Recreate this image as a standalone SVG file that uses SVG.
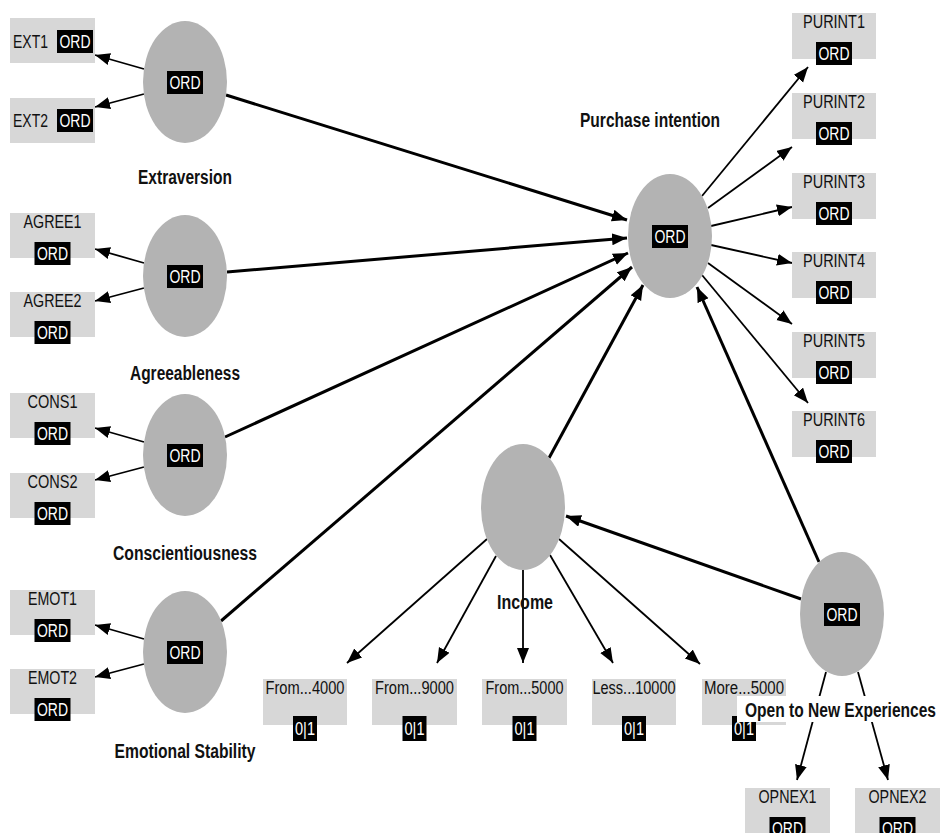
<svg xmlns="http://www.w3.org/2000/svg" width="941" height="833" viewBox="0 0 941 833">
<defs>
<marker id="ah" markerUnits="userSpaceOnUse" markerWidth="16" markerHeight="14" refX="15" refY="6" orient="auto"><path d="M0,0 L15,6 L0,12 z" fill="#000"/></marker>
<style>
text{font-family:"Liberation Sans",Arial,sans-serif;}
.lv{fill:#b3b3b3;}
.box{fill:#d7d7d7;}
.tag{fill:#000;}
.tagt{fill:#fff;font-size:18px;text-anchor:middle;}
.it{fill:#111;font-size:18px;}
.itc{fill:#111;font-size:18px;text-anchor:middle;}
.lab{fill:#111;font-size:20px;font-weight:bold;text-anchor:middle;}
.s{stroke:#000;stroke-width:3;fill:none;marker-end:url(#ah);}
.m{stroke:#000;stroke-width:1.8;fill:none;marker-end:url(#ah);}
</style>
</defs>
<rect width="941" height="833" fill="#fff"/>
<g id="connectors">
<line class="s" x1="226" y1="95" x2="627" y2="220"/>
<line class="s" x1="227" y1="272" x2="627" y2="238"/>
<line class="s" x1="225" y1="437" x2="628" y2="253"/>
<line class="s" x1="221" y1="621" x2="632" y2="267"/>
<line class="s" x1="549" y1="458" x2="643" y2="285"/>
<line class="s" x1="819" y1="562" x2="697" y2="287"/>
<line class="s" x1="801" y1="599" x2="566" y2="516"/>
<line class="m" x1="144" y1="69" x2="95" y2="55"/>
<line class="m" x1="144" y1="94" x2="95" y2="107"/>
<line class="m" x1="144" y1="263" x2="95" y2="249"/>
<line class="m" x1="144" y1="288" x2="95" y2="301"/>
<line class="m" x1="144" y1="442" x2="95" y2="428"/>
<line class="m" x1="144" y1="467" x2="95" y2="480"/>
<line class="m" x1="144" y1="639" x2="95" y2="625"/>
<line class="m" x1="144" y1="664" x2="95" y2="677"/>
<line class="m" x1="702" y1="196" x2="808" y2="67"/>
<line class="m" x1="708" y1="208" x2="792" y2="147"/>
<line class="m" x1="711" y1="226" x2="792" y2="207"/>
<line class="m" x1="711" y1="245" x2="792" y2="263"/>
<line class="m" x1="708" y1="263" x2="792" y2="324"/>
<line class="m" x1="702" y1="275" x2="808" y2="403"/>
<line class="m" x1="487" y1="539" x2="347" y2="663"/>
<line class="m" x1="496" y1="556" x2="437" y2="663"/>
<line class="m" x1="523" y1="570" x2="523" y2="663"/>
<line class="m" x1="550" y1="555" x2="613" y2="663"/>
<line class="m" x1="559" y1="539" x2="700" y2="664"/>
<line class="m" x1="826" y1="672" x2="797" y2="780"/>
<line class="m" x1="858" y1="672" x2="888" y2="780"/>
</g>
<g id="ext1"><rect class="box" x="10" y="18" width="85" height="45"/><text class="it" x="13" y="48" textLength="35" lengthAdjust="spacingAndGlyphs">EXT1</text><rect class="tag" x="57" y="30" width="36" height="23"/><text class="tagt" x="75" y="48" textLength="31" lengthAdjust="spacingAndGlyphs">ORD</text></g>
<g id="ext2"><rect class="box" x="10" y="98" width="85" height="45"/><text class="it" x="13" y="127" textLength="35" lengthAdjust="spacingAndGlyphs">EXT2</text><rect class="tag" x="57" y="109" width="36" height="23"/><text class="tagt" x="75" y="127" textLength="31" lengthAdjust="spacingAndGlyphs">ORD</text></g>
<g id="extraversion"><ellipse class="lv" cx="185" cy="82" rx="42" ry="61"/><rect class="tag" x="167" y="71" width="36" height="23"/><text class="tagt" x="185" y="89" textLength="31" lengthAdjust="spacingAndGlyphs">ORD</text><text class="lab" x="185" y="184" textLength="94" lengthAdjust="spacingAndGlyphs">Extraversion</text></g>
<g id="agree1"><rect class="box" x="10" y="213" width="85" height="45"/><text class="itc" x="52.5" y="228" textLength="58" lengthAdjust="spacingAndGlyphs">AGREE1</text><rect class="tag" x="34.5" y="242" width="36" height="23"/><text class="tagt" x="52.5" y="260" textLength="31" lengthAdjust="spacingAndGlyphs">ORD</text></g>
<g id="agree2"><rect class="box" x="10" y="292" width="85" height="45"/><text class="itc" x="52.5" y="307" textLength="58" lengthAdjust="spacingAndGlyphs">AGREE2</text><rect class="tag" x="34.5" y="321" width="36" height="23"/><text class="tagt" x="52.5" y="339" textLength="31" lengthAdjust="spacingAndGlyphs">ORD</text></g>
<g id="agreeableness"><ellipse class="lv" cx="185" cy="276" rx="42" ry="61"/><rect class="tag" x="167" y="265" width="36" height="23"/><text class="tagt" x="185" y="283" textLength="31" lengthAdjust="spacingAndGlyphs">ORD</text><text class="lab" x="185" y="380" textLength="110" lengthAdjust="spacingAndGlyphs">Agreeableness</text></g>
<g id="cons1"><rect class="box" x="10" y="393" width="85" height="45"/><text class="itc" x="52.5" y="408" textLength="50" lengthAdjust="spacingAndGlyphs">CONS1</text><rect class="tag" x="34.5" y="422" width="36" height="23"/><text class="tagt" x="52.5" y="440" textLength="31" lengthAdjust="spacingAndGlyphs">ORD</text></g>
<g id="cons2"><rect class="box" x="10" y="473" width="85" height="45"/><text class="itc" x="52.5" y="488" textLength="50" lengthAdjust="spacingAndGlyphs">CONS2</text><rect class="tag" x="34.5" y="502" width="36" height="23"/><text class="tagt" x="52.5" y="520" textLength="31" lengthAdjust="spacingAndGlyphs">ORD</text></g>
<g id="conscientiousness"><ellipse class="lv" cx="185" cy="455" rx="42" ry="61"/><rect class="tag" x="167" y="444" width="36" height="23"/><text class="tagt" x="185" y="462" textLength="31" lengthAdjust="spacingAndGlyphs">ORD</text><text class="lab" x="185" y="560" textLength="144" lengthAdjust="spacingAndGlyphs">Conscientiousness</text></g>
<g id="emot1"><rect class="box" x="10" y="590" width="85" height="45"/><text class="itc" x="52.5" y="605" textLength="49" lengthAdjust="spacingAndGlyphs">EMOT1</text><rect class="tag" x="34.5" y="619" width="36" height="23"/><text class="tagt" x="52.5" y="637" textLength="31" lengthAdjust="spacingAndGlyphs">ORD</text></g>
<g id="emot2"><rect class="box" x="10" y="669" width="85" height="45"/><text class="itc" x="52.5" y="684" textLength="49" lengthAdjust="spacingAndGlyphs">EMOT2</text><rect class="tag" x="34.5" y="698" width="36" height="23"/><text class="tagt" x="52.5" y="716" textLength="31" lengthAdjust="spacingAndGlyphs">ORD</text></g>
<g id="emotional"><ellipse class="lv" cx="185" cy="652" rx="42" ry="61"/><rect class="tag" x="167" y="641" width="36" height="23"/><text class="tagt" x="185" y="659" textLength="31" lengthAdjust="spacingAndGlyphs">ORD</text><text class="lab" x="185" y="758" textLength="141" lengthAdjust="spacingAndGlyphs">Emotional Stability</text></g>
<g id="purchase"><ellipse class="lv" cx="670" cy="236" rx="42" ry="62"/><rect class="tag" x="652" y="225" width="36" height="23"/><text class="tagt" x="670" y="243" textLength="31" lengthAdjust="spacingAndGlyphs">ORD</text><text class="lab" x="650" y="127" textLength="140" lengthAdjust="spacingAndGlyphs">Purchase intention</text></g>
<g id="purint1"><rect class="box" x="792" y="13" width="84" height="46"/><text class="itc" x="834" y="28" textLength="62" lengthAdjust="spacingAndGlyphs">PURINT1</text><rect class="tag" x="816" y="42" width="36" height="23"/><text class="tagt" x="834" y="60" textLength="31" lengthAdjust="spacingAndGlyphs">ORD</text></g>
<g id="purint2"><rect class="box" x="792" y="93" width="84" height="46"/><text class="itc" x="834" y="108" textLength="62" lengthAdjust="spacingAndGlyphs">PURINT2</text><rect class="tag" x="816" y="122" width="36" height="23"/><text class="tagt" x="834" y="140" textLength="31" lengthAdjust="spacingAndGlyphs">ORD</text></g>
<g id="purint3"><rect class="box" x="792" y="173" width="84" height="46"/><text class="itc" x="834" y="188" textLength="62" lengthAdjust="spacingAndGlyphs">PURINT3</text><rect class="tag" x="816" y="202" width="36" height="23"/><text class="tagt" x="834" y="220" textLength="31" lengthAdjust="spacingAndGlyphs">ORD</text></g>
<g id="purint4"><rect class="box" x="792" y="252" width="84" height="46"/><text class="itc" x="834" y="267" textLength="62" lengthAdjust="spacingAndGlyphs">PURINT4</text><rect class="tag" x="816" y="281" width="36" height="23"/><text class="tagt" x="834" y="299" textLength="31" lengthAdjust="spacingAndGlyphs">ORD</text></g>
<g id="purint5"><rect class="box" x="792" y="332" width="84" height="46"/><text class="itc" x="834" y="347" textLength="62" lengthAdjust="spacingAndGlyphs">PURINT5</text><rect class="tag" x="816" y="361" width="36" height="23"/><text class="tagt" x="834" y="379" textLength="31" lengthAdjust="spacingAndGlyphs">ORD</text></g>
<g id="purint6"><rect class="box" x="792" y="411" width="84" height="46"/><text class="itc" x="834" y="426" textLength="62" lengthAdjust="spacingAndGlyphs">PURINT6</text><rect class="tag" x="816" y="440" width="36" height="23"/><text class="tagt" x="834" y="458" textLength="31" lengthAdjust="spacingAndGlyphs">ORD</text></g>
<g id="income"><ellipse class="lv" cx="523" cy="507" rx="42" ry="63"/><text class="lab" x="525" y="609" textLength="56" lengthAdjust="spacingAndGlyphs">Income</text></g>
<g id="inc1"><rect class="box" x="263" y="679" width="84" height="46"/><text class="itc" x="305" y="694" textLength="79" lengthAdjust="spacingAndGlyphs">From...4000</text><rect class="tag" x="293" y="716" width="24" height="25"/><text class="tagt" x="305" y="735" textLength="20" lengthAdjust="spacingAndGlyphs">0|1</text></g>
<g id="inc2"><rect class="box" x="372" y="679" width="85" height="46"/><text class="itc" x="414.5" y="694" textLength="79" lengthAdjust="spacingAndGlyphs">From...9000</text><rect class="tag" x="402.5" y="716" width="24" height="25"/><text class="tagt" x="414.5" y="735" textLength="20" lengthAdjust="spacingAndGlyphs">0|1</text></g>
<g id="inc3"><rect class="box" x="482" y="679" width="85" height="46"/><text class="itc" x="524.5" y="694" textLength="78" lengthAdjust="spacingAndGlyphs">From...5000</text><rect class="tag" x="512.5" y="716" width="24" height="25"/><text class="tagt" x="524.5" y="735" textLength="20" lengthAdjust="spacingAndGlyphs">0|1</text></g>
<g id="inc4"><rect class="box" x="592" y="679" width="84" height="46"/><text class="itc" x="634" y="694" textLength="83" lengthAdjust="spacingAndGlyphs">Less...10000</text><rect class="tag" x="622" y="716" width="24" height="25"/><text class="tagt" x="634" y="735" textLength="20" lengthAdjust="spacingAndGlyphs">0|1</text></g>
<g id="inc5"><rect class="box" x="702" y="679" width="84" height="46"/><text class="itc" x="744" y="694" textLength="80" lengthAdjust="spacingAndGlyphs">More...5000</text><rect class="tag" x="732" y="716" width="24" height="25"/><text class="tagt" x="744" y="735" textLength="20" lengthAdjust="spacingAndGlyphs">0|1</text></g>
<g id="opnex1"><rect class="box" x="745" y="788" width="85" height="46"/><text class="itc" x="787.5" y="803" textLength="58" lengthAdjust="spacingAndGlyphs">OPNEX1</text><rect class="tag" x="769.5" y="817" width="36" height="23"/><text class="tagt" x="787.5" y="835" textLength="31" lengthAdjust="spacingAndGlyphs">ORD</text></g>
<g id="opnex2"><rect class="box" x="855" y="788" width="85" height="46"/><text class="itc" x="897.5" y="803" textLength="58" lengthAdjust="spacingAndGlyphs">OPNEX2</text><rect class="tag" x="879.5" y="817" width="36" height="23"/><text class="tagt" x="897.5" y="835" textLength="31" lengthAdjust="spacingAndGlyphs">ORD</text></g>
<g id="open"><ellipse class="lv" cx="842" cy="614" rx="42" ry="62"/><rect class="tag" x="824" y="603" width="36" height="23"/><text class="tagt" x="842" y="621" textLength="31" lengthAdjust="spacingAndGlyphs">ORD</text><rect x="737" y="696" width="204" height="26" fill="#fff"/><text class="lab" x="840.5" y="717" textLength="191" lengthAdjust="spacingAndGlyphs">Open to New Experiences</text></g>
</svg>
